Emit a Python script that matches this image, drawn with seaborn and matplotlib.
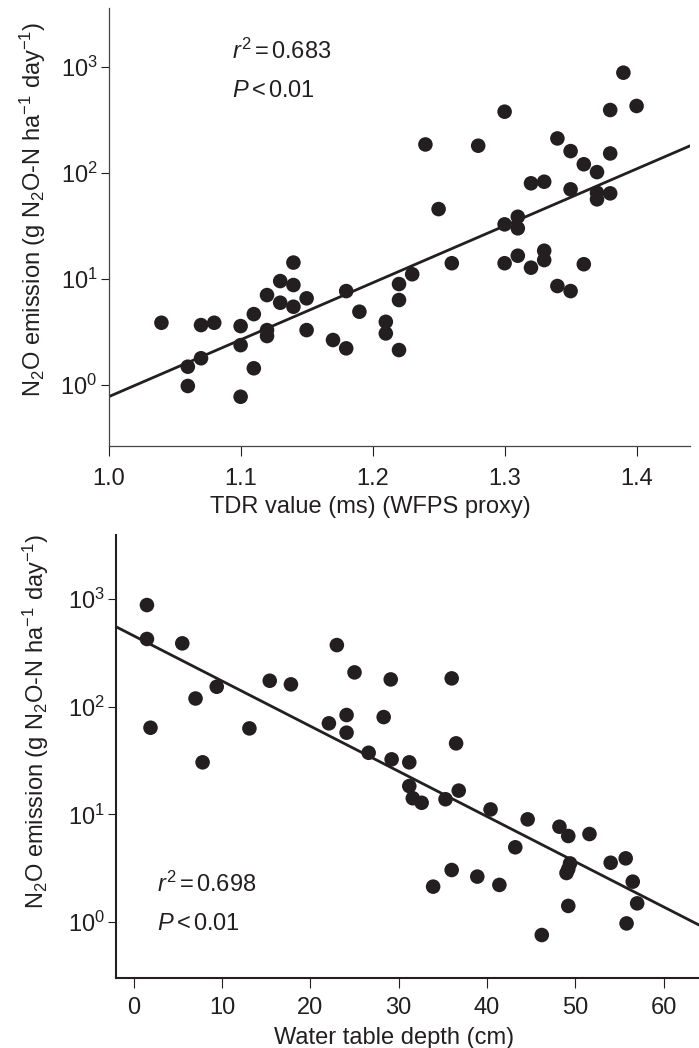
import numpy as np
import pandas as pd
import matplotlib
matplotlib.use("Agg")
import matplotlib.pyplot as plt
import matplotlib.ticker as mticker
import seaborn as sns

# top panel: N2O emission vs TDR value
tdr = [1.04, 1.06, 1.06, 1.07, 1.07, 1.08, 1.10, 1.10, 1.10, 1.11, 1.11,
       1.12, 1.12, 1.12, 1.13, 1.13, 1.14, 1.14, 1.14, 1.15, 1.15, 1.17,
       1.18, 1.18, 1.19, 1.21, 1.21, 1.22, 1.22, 1.22, 1.23, 1.24, 1.25,
       1.26, 1.28, 1.30, 1.30, 1.30, 1.31, 1.31, 1.31, 1.32, 1.32, 1.33,
       1.33, 1.33, 1.34, 1.34, 1.35, 1.35, 1.35, 1.36, 1.36, 1.37, 1.37,
       1.37, 1.38, 1.38, 1.38, 1.39, 1.40]
emis_tdr = [3.87, 1.49, 0.98, 3.68, 1.79, 3.87, 3.6, 2.38, 0.776, 4.67, 1.44,
            7.06, 3.3, 2.9, 9.57, 5.98, 14.3, 8.78, 5.48, 6.58, 3.3, 2.66,
            7.7, 2.22, 4.92, 3.95, 3.07, 8.97, 6.34, 2.14, 11.1, 186, 45.7,
            14.1, 181, 379, 32.8, 14.1, 38.7, 30.1, 16.6, 80, 12.8, 82.8,
            18.5, 15.1, 212, 8.59, 161, 70.2, 7.7, 121, 13.8, 102, 65.2,
            56.5, 393, 153, 64.3, 884, 429]
fit_tdr_x = [1.0, 1.442]
fit_tdr_y = [0.776, 184]

# bottom panel: N2O emission vs water table depth
depth = [1.5, 1.5, 1.9, 5.5, 7.0, 7.8, 9.4, 13.1, 15.4, 17.8, 22.1, 23.0,
         24.1, 24.1, 25.0, 26.6, 28.3, 29.1, 29.2, 31.2, 31.2, 31.6, 32.6,
         33.9, 35.3, 36.0, 36.0, 36.5, 36.8, 38.9, 40.4, 41.4, 43.2, 44.6,
         46.2, 48.2, 49.2, 49.4, 49.2, 49.0, 49.2, 51.6, 54.0, 55.7, 55.8,
         56.5, 57.0]
emis_wt = [878, 425, 63.7, 387, 119, 30.4, 153, 62.8, 174, 161, 70, 373,
           83.6, 57.3, 208, 37.3, 80, 179, 32.4, 30.4, 18.3, 14.1, 12.8,
           2.13, 13.8, 183, 3.04, 45.6, 16.6, 2.64, 11.1, 2.21, 4.94, 8.98,
           0.757, 7.67, 6.29, 3.5, 3.1, 2.85, 1.41, 6.56, 3.55, 3.9, 0.97,
           2.37, 1.49]
fit_wt_x = [-2.0, 64.0]
fit_wt_y = [552, 0.938]

sns.set_style("ticks")
plt.rcParams['font.family'] = ['Liberation Sans', 'DejaVu Sans']
plt.rcParams['mathtext.fontset'] = 'custom'
plt.rcParams['mathtext.rm'] = 'Liberation Sans'
plt.rcParams['mathtext.it'] = 'Liberation Sans:italic'
plt.rcParams['mathtext.bf'] = 'Liberation Sans:bold'

INK = "#231f20"
FS = 17
ylab = r"N$_2$O emission (g N$_2$O-N ha$^{-1}$ day$^{-1}$)"

fig = plt.figure(figsize=(6.99, 10.48), dpi=100)
ax1 = fig.add_axes([0.1554, 0.5744, 0.8318, 0.418])
ax2 = fig.add_axes([0.166, 0.0668, 0.834, 0.4227])

df1 = pd.DataFrame({"tdr": tdr, "emis": emis_tdr})
df2 = pd.DataFrame({"depth": depth, "emis": emis_wt})

sns.lineplot(x=fit_tdr_x, y=fit_tdr_y, ax=ax1, color=INK, lw=2.0)
sns.scatterplot(data=df1, x="tdr", y="emis", ax=ax1, s=110, color=INK,
                edgecolor="none", zorder=3)
sns.lineplot(x=fit_wt_x, y=fit_wt_y, ax=ax2, color=INK, lw=2.0)
sns.scatterplot(data=df2, x="depth", y="emis", ax=ax2, s=110, color=INK,
                edgecolor="none", zorder=3)

for ax in (ax1, ax2):
    ax.set_yscale("log")
    ax.yaxis.set_major_locator(mticker.FixedLocator([1, 10, 100, 1000]))
    ax.yaxis.set_minor_locator(mticker.NullLocator())
    ax.xaxis.set_minor_locator(mticker.NullLocator())
    sns.despine(ax=ax)
    ax.tick_params(axis="both", direction="out", labelsize=FS, colors=INK)
    ax.tick_params(axis="y", length=6, pad=2)
    ax.set_ylabel(ylab, fontsize=FS, color=INK)

ax1.set_xlim(1.0, 1.4405)
ax1.set_ylim(10 ** -0.575, 10 ** 3.557)
ax1.set_xticks([1.0, 1.1, 1.2, 1.3, 1.4])
ax1.xaxis.set_major_formatter(mticker.FormatStrFormatter("%.1f"))
ax1.tick_params(axis="x", length=7, pad=9)
ax1.set_xlabel("TDR value (ms) (WFPS proxy)", fontsize=FS, color=INK)
ax1.xaxis.set_label_coords(0.45, -0.115)
ax1.yaxis.set_label_coords(-0.104, 0.54)
for sp in ax1.spines.values():
    sp.set_linewidth(0.9)
    sp.set_color("#444444")
ax1.text(0.212, 0.90, r"$r^2\,$=$\,$0.683", transform=ax1.transAxes,
         fontsize=FS, va="center", ha="left", color=INK)
ax1.text(0.212, 0.81, r"$P\,$<$\,$0.01", transform=ax1.transAxes,
         fontsize=FS, va="center", ha="left", color=INK)

ax2.set_xlim(-2.0, 64.0)
ax2.set_ylim(10 ** -0.52, 10 ** 3.594)
ax2.set_xticks([0, 10, 20, 30, 40, 50, 60])
ax2.tick_params(axis="x", length=7, pad=7)
ax2.set_xlabel("Water table depth (cm)", fontsize=FS, color=INK)
ax2.xaxis.set_label_coords(0.477, -0.11)
ax2.yaxis.set_label_coords(-0.111, 0.58)
for sp in ax2.spines.values():
    sp.set_linewidth(1.5)
    sp.set_color(INK)
ax2.text(0.070, 0.212, r"$r^2\,$=$\,$0.698", transform=ax2.transAxes,
         fontsize=FS, va="center", ha="left", color=INK)
ax2.text(0.070, 0.122, r"$P\,$<$\,$0.01", transform=ax2.transAxes,
         fontsize=FS, va="center", ha="left", color=INK)

fig.savefig("out.png", dpi=100)
